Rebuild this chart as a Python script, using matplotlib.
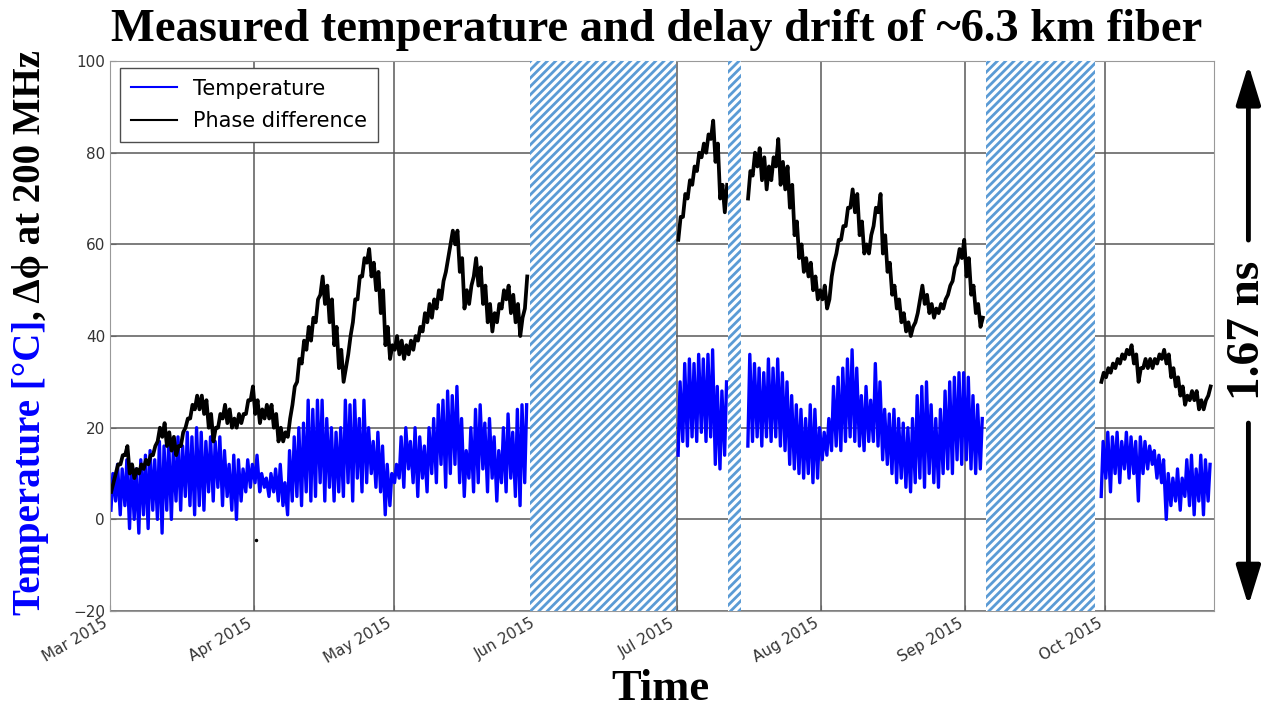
import numpy as np
import matplotlib
matplotlib.use("Agg")
import matplotlib.pyplot as plt
import matplotlib.dates as mdates
from matplotlib.patches import FancyArrowPatch

# ── Data ─────────────────────────────────────────────────────────────────
# four recording segments, start dates
seg_start = ["2015-03-01", "2015-07-01", "2015-07-16", "2015-09-30"]

# temperature [°C]: (night min, afternoon max) per day
temp_1 = [2, 10, 4, 12, 1, 11, 3, 13, -2, 12, 0, 11, -3, 13, 1, 14, -2, 15, 2, 13,
          0, 17, -3, 16, 2, 17, 0, 15, 4, 18, 2, 16, 5, 19, 3, 18, 1, 20, 3, 19,
          2, 17, 6, 18, 4, 17, 7, 18, 3, 15, 5, 12, 2, 14, 0, 13, 4, 11, 6, 13,
          7, 12, 8, 14, 6, 10, 7, 9, 5, 10, 6, 11, 4, 12, 3, 8, 1, 15, 4, 18,
          5, 20, 3, 21, 6, 26, 4, 24, 5, 26, 8, 26, 4, 22, 7, 20, 4, 19, 6, 20,
          5, 26, 8, 25, 4, 26, 9, 22, 6, 26, 8, 20, 10, 17, 7, 19, 6, 16, 1, 12,
          3, 10, 8, 12, 9, 18, 7, 20, 11, 17, 8, 20, 5, 18, 9, 16, 6, 20, 10, 22,
          8, 25, 12, 26, 7, 28, 10, 27, 12, 29, 8, 22, 5, 15, 9, 20, 6, 24, 8, 25,
          11, 21, 6, 22, 9, 18, 4, 15, 8, 20, 6, 23, 9, 19, 5, 24, 3, 25, 8, 25]
temp_2 = [14, 30, 17, 34, 16, 35, 18, 34, 17, 36, 19, 35, 17, 36, 18, 37,
          12, 29, 11, 28, 14, 30]
temp_3 = [16, 36, 17, 34, 18, 33, 16, 32, 18, 35, 17, 33, 18, 35, 16, 32, 15, 30,
          12, 27, 11, 25, 10, 24, 9, 22, 10, 25, 8, 24, 9, 20, 13, 19, 14, 22,
          15, 29, 16, 31, 15, 33, 17, 35, 18, 37, 17, 33, 16, 27, 15, 29, 17, 26,
          17, 34, 16, 30, 13, 24, 12, 23, 10, 24, 8, 22, 9, 21, 7, 20, 6, 22,
          8, 27, 9, 29, 7, 30, 10, 25, 8, 22, 7, 24, 10, 28, 11, 30, 10, 31,
          13, 32, 12, 32, 13, 31, 11, 27, 10, 25, 11, 22]
temp_4 = [5, 17, 9, 19, 6, 18, 10, 19, 8, 17, 11, 19, 9, 18, 10, 17, 4, 18,
          10, 17, 11, 16, 12, 15, 9, 14, 8, 13, 0, 10, 3, 9, 4, 11, 2, 9,
          5, 13, 3, 14, 1, 11, 4, 14, 1, 13, 4, 12]

# phase difference at 200 MHz [deg]: (morning, evening) per day
phase_1 = [6, 8, 10, 12, 12, 14, 14, 16, 10, 12, 9, 11, 10, 12, 11, 13, 12, 14, 14, 16,
           17, 20, 18, 21, 16, 19, 15, 18, 14, 16, 16, 19, 20, 22, 22, 25, 24, 27, 24, 27,
           23, 26, 20, 23, 17, 20, 20, 23, 22, 25, 21, 24, 20, 22, 20, 23, 21, 23, 23, 26,
           26, 29, 23, 26, 21, 24, 22, 25, 22, 25, 20, 23, 17, 20, 17, 19, 18, 22, 25, 29,
           30, 35, 34, 39, 37, 42, 39, 44, 43, 48, 49, 53, 47, 51, 43, 48, 38, 42, 33, 37,
           30, 33, 36, 40, 43, 48, 48, 53, 53, 57, 56, 59, 53, 56, 50, 54, 45, 50, 38, 42,
           35, 38, 37, 40, 36, 39, 35, 38, 36, 39, 37, 40, 39, 42, 41, 45, 43, 47, 44, 48,
           46, 50, 48, 52, 54, 57, 60, 63, 60, 63, 54, 57, 46, 50, 47, 51, 53, 57, 51, 55,
           47, 51, 43, 47, 41, 45, 43, 47, 46, 50, 48, 51, 45, 49, 43, 47, 40, 44, 46, 53]
phase_2 = [61, 66, 66, 71, 70, 74, 73, 77, 76, 80, 79, 82, 80, 84, 83, 87,
           78, 82, 70, 73, 67, 73]
phase_3 = [70, 76, 75, 80, 77, 81, 74, 79, 72, 77, 74, 79, 77, 83, 73, 78, 72, 77,
           68, 73, 62, 65, 57, 60, 54, 57, 53, 56, 50, 53, 48, 50, 48, 51, 46, 48,
           53, 56, 58, 61, 61, 64, 64, 68, 68, 72, 67, 71, 62, 65, 58, 60, 58, 62,
           64, 68, 67, 71, 58, 62, 54, 56, 49, 51, 46, 48, 43, 45, 41, 43, 40, 42,
           43, 45, 48, 51, 47, 49, 45, 47, 44, 46, 45, 47, 46, 48, 49, 51, 52, 55,
           56, 59, 57, 61, 53, 57, 49, 51, 45, 47, 42, 44]
phase_4 = [30, 32, 31, 33, 32, 34, 33, 35, 34, 36, 35, 37, 36, 38, 34, 36, 30, 33,
           33, 35, 33, 35, 33, 35, 34, 36, 35, 37, 34, 36, 31, 33, 29, 31, 27, 29,
           25, 27, 26, 28, 26, 28, 24, 26, 24, 26, 27, 29]

# stray sample near Apr 1
outlier_t = ["2015-04-01T12"]
outlier_v = [-4.5]

# gaps in the record (hatched)
gaps = [("2015-05-30T10", "2015-06-30T20"),
        ("2015-07-11T20", "2015-07-14T20"),
        ("2015-09-05T10", "2015-09-28T20")]

months = ["2015-03-01", "2015-04-01", "2015-05-01", "2015-06-01",
          "2015-07-01", "2015-08-01", "2015-09-01", "2015-10-01"]


def sample_times(start, n, hours):
    """Two samples per day at the given hours."""
    day = np.repeat(np.arange(n // 2), 2)
    hr = np.tile(hours, n // 2)
    return np.datetime64(start) + (day * 24 + hr).astype("timedelta64[h]")


# ── Plot ─────────────────────────────────────────────────────────────────
plt.rcParams["hatch.linewidth"] = 2.0
serif = ["Liberation Serif", "DejaVu Serif"]

fig = plt.figure(figsize=(12.7, 7.1), dpi=100)
ax = fig.add_axes([0.0866, 0.1394, 0.8694, 0.7746])

temps = [temp_1, temp_2, temp_3, temp_4]
phases = [phase_1, phase_2, phase_3, phase_4]
for i, (s, tv, pv) in enumerate(zip(seg_start, temps, phases)):
    ax.plot(sample_times(s, len(tv), [5, 15]), tv, color="#0000ff", lw=2.4,
            label="Temperature" if i == 0 else None, zorder=2)
    ax.plot(sample_times(s, len(pv), [6, 18]), pv, color="black", lw=2.7,
            label="Phase difference" if i == 0 else None, zorder=2)
ax.plot(np.array(outlier_t, dtype="datetime64[h]"), outlier_v, "k.", ms=3)

for a, b in gaps:
    ax.axvspan(np.datetime64(a), np.datetime64(b), facecolor="white",
               edgecolor="#5B9BD5", hatch="////", lw=0, zorder=3)

ax.set_ylim(-20, 100)
ax.set_xlim(np.datetime64("2015-03-01"), np.datetime64("2015-10-24T12"))
ax.set_yticks(range(-20, 101, 20))
ax.set_xticks([np.datetime64(m) for m in months])
ax.xaxis.set_major_formatter(mdates.DateFormatter("%b %Y"))
for lab in ax.get_xticklabels():
    lab.set_rotation(30)
    lab.set_ha("right")
ax.tick_params(labelsize=11, labelcolor="#333333", direction="in", length=4,
               color="0.4")
ax.grid(True, color="0.35", lw=1.1, zorder=1)
ax.set_axisbelow(True)
for sp in ax.spines.values():
    sp.set_color("0.6")

leg = ax.legend(loc="upper left", fontsize=15, fancybox=False, framealpha=1,
                edgecolor="0.3", handlelength=2.2, borderpad=0.5,
                labelspacing=0.6, bbox_to_anchor=(0.0, 1.006))
leg.get_frame().set_linewidth(1.0)
for h in leg.get_lines():
    h.set_linewidth(1.5)

fig.text(0.517, 0.958, "Measured temperature and delay drift of ~6.3 km fiber",
         ha="center", va="center", fontsize=33.5, fontweight="bold", family=serif)
fig.text(0.52, 0.03, "Time", ha="center", va="center", fontsize=32,
         fontweight="bold", family=serif)

# two-colour y label
renderer = fig.canvas.get_renderer()
t1 = fig.text(0.024, 0.134, "Temperature [°C]", rotation=90, ha="center",
              va="bottom", fontsize=28, fontweight="bold", color="#0000ff",
              family=serif)
bb = t1.get_window_extent(renderer).transformed(fig.transFigure.inverted())
fig.text(0.024, bb.y1, ", Δϕ at 200 MHz", rotation=90, ha="center",
         va="bottom", fontsize=28, fontweight="bold", color="black",
         family=serif)

# 1.67 ns span arrow
xa = 0.983
style = "-|>,head_length=1.2,head_width=0.37"
fig.add_artist(FancyArrowPatch((xa, 0.658), (xa, 0.913), transform=fig.transFigure,
                               arrowstyle=style, lw=3.5, color="black",
                               mutation_scale=20))
fig.add_artist(FancyArrowPatch((xa, 0.408), (xa, 0.143), transform=fig.transFigure,
                               arrowstyle=style, lw=3.5, color="black",
                               mutation_scale=20))
fig.text(xa, 0.535, "1.67 ns", rotation=90, ha="center", va="center",
         fontsize=34, fontweight="bold", family=serif)

plt.savefig("out.png", dpi=100)
plt.close()
